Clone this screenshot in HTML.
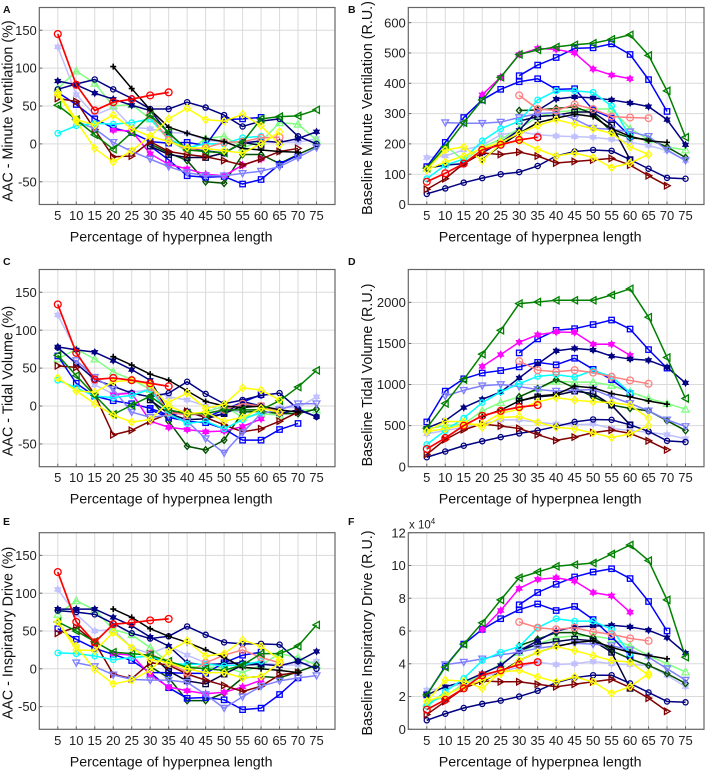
<!DOCTYPE html>
<html>
<head>
<meta charset="utf-8">
<title>Hyperpnea panels</title>
<style>
html,body{margin:0;padding:0;background:#fff;width:708px;height:772px;overflow:hidden}
svg{display:block;font-family:"Liberation Sans",sans-serif;filter:blur(.35px)}
</style>
</head>
<body>
<svg id="chart" xmlns="http://www.w3.org/2000/svg" width="708" height="772" viewBox="0 0 708 772"></svg>
<script>
const categories = [5,10,15,20,25,30,35,40,45,50,55,60,65,70,75];
const xTicks = [5,10,15,20,25,30,35,40,45,50,55,60,65,70,75];
const seriesNames = ['lavender-star','light-green-triangle','dark-green-diamond','blue-square-a','blue-square-b','magenta-star','dark-navy-square','navy-star','navy-circle','dark-red-triangle','lavender-down-triangle','cyan-hexagon','salmon-circle','black-plus','green-left-triangle','yellow-diamond-b','yellow-diamond-a','red-circle'];
const seriesFirstX = [5,5,30,5,30,20,30,5,5,5,10,5,30,20,5,5,5,5];

/* Panel A */
const aLavStar = [128,65,38,48,22,20,15,14,5,2,2,2,3,2,7];
const aLightGreen = [73,96,80,50,52,33,5,-10,7,10,-5,3,28,26,5];
const aDarkGreen = [0,-12,-22,-50,-52,-14,-14,-26,-14,-3];
const aBlue1 = [68,52,33,21,15,3,1,2,-2,32,33,35];
const aBlue2 = [-3,-21,-42,-44,-43,-53,-47,-27,-15];
const aMagenta = [18,17,-13,-27,-33,-40,-42,-28,-20];
const aNavySq = [-3,-14,-18,-18,-12,2,-2];
const aNavyStar = [83,78,67,59,51,44,14,-7,-9,-12,1,4,2,7,16];
const aNavyO = [72,79,85,72,60,46,46,55,48,38,23,30,33,10,0];
const aDarkRed = [60,56,19,-17,-16,3,-10,-14,-17,-22,-28,-20,-10,-6];
const aLavDown = [30,20,2,-10,-20,-30,-38,-42,-42,-39,-36,-30,-18,-5];
const aCyan = [14,24,27,26,28,33,7,-5,0,0,8,10];
const aSalmon = [38,5,-8,-5,2,3,8,9];
const aBlack = [102,73,45,22,14,7,3,-6,-8,-10,-11];
const aGreen = [51,32,12,-7,15,38,15,-8,-10,-12,2,33,36,37,45];
const aYellowB = [65,30,-6,-24,-9,10,3,-5,-6,-9,-12,0,16];
const aYellowA = [68,32,25,38,20,10,33,47,32,30,39,24,-1];
const aRed = [145,78,44,55,59,64,68];

/* Panel B */
const bLavStar = [155,160,180,195,230,240,230,226,224,222,215,205,195,178,145];
const bLightGreen = [120,195,145,190,215,250,290,305,310,315,315,250,215,190,180];
const bDarkGreen = [310,312,317,322,300,240,220,215,190,155];
const bBlue1 = [125,205,287,345,380,405,415,380,382,312,285,225];
const bBlue2 = [425,460,485,515,517,530,495,412,307];
const bMagenta = [362,420,495,515,512,500,447,427,415];
const bNavySq = [275,290,295,305,305,262,148];
const bNavyStar = [120,130,135,170,205,245,310,348,355,352,345,335,323,280,197];
const bNavyO = [35,53,72,87,100,107,127,160,175,180,177,148,118,88,85];
const bDarkRed = [50,85,135,170,165,173,160,137,142,147,152,130,95,62];
const bLavDown = [270,268,268,272,287,300,303,282,252,248,240,225,180,145];
const bCyan = [85,130,150,210,250,275,345,375,375,370,325,225];
const bSalmon = [360,315,310,330,315,290,287,285];
const bBlack = [148,195,235,270,285,298,290,250,225,210,205];
const bGreen = [120,190,270,345,420,495,510,520,527,532,545,560,492,375,222];
const bYellowB = [115,140,160,185,205,235,260,280,265,250,235,190,165];
const bYellowA = [115,180,190,145,200,210,182,160,170,155,122,137,165];
const bRed = [75,103,135,180,197,213,222];

/* Panel C */
const cLavStar = [120,73,28,16,18,22,12,8,0,-5,-8,-5,-2,-2,12];
const cLightGreen = [62,75,62,45,35,22,-5,-12,-8,0,-15,-10,-12,-5,-5];
const cDarkGreen = [10,-20,-53,-58,-45,-8,-7,-10,-10,-4];
const cBlue1 = [66,30,13,7,3,-3,-12,-8,-15,-5,5,15];
const cBlue2 = [-5,-15,-20,-22,-30,-45,-45,-31,-23];
const cMagenta = [15,17,-20,-28,-31,-34,-33,-27,-17];
const cNavySq = [8,-10,-18,-17,-10,0,0];
const cNavyStar = [78,74,71,60,48,34,-8,-7,-15,-10,6,0,-10,-5,-14];
const cNavyO = [77,56,35,26,17,12,17,32,16,3,8,14,17,-4,-14];
const cDarkRed = [53,51,15,-38,-32,-20,-10,-7,-15,-25,-34,-30,-20,-8];
const cLavDown = [60,38,22,-8,-15,-12,-20,-43,-62,-35,-10,-5,3,3];
const cCyan = [34,24,13,11,14,22,-10,-23,-20,-30,-18,-8];
const cSalmon = [25,-8,-12,-10,-5,3,0,-8];
const cBlack = [65,54,42,34,20,6,0,-2,0,-5,-8];
const cGreen = [67,40,14,-11,1,13,-5,-10,-10,-5,-5,-5,7,25,47];
const cYellowB = [37,20,18,32,34,28,0,-10,-8,-20,-15,-3,-8];
const cYellowA = [37,20,3,-12,-21,-18,5,17,-3,2,24,21,8];
const cRed = [134,70,35,37,34,30,26];

/* Panel D */
const dLavStar = [400,440,480,520,570,570,540,520,510,520,465,440,420,390,340];
const dLightGreen = [460,500,520,680,780,850,950,1040,1030,1030,990,910,830,770,700];
const dDarkGreen = [850,950,1060,960,850,750,710,680,560,440];
const dBlue1 = [545,920,1070,1140,1170,1215,1270,1240,1320,1185,1060,890];
const dBlue2 = [1385,1555,1660,1680,1730,1785,1675,1425,1200];
const dMagenta = [1220,1365,1515,1605,1640,1635,1490,1490,1355];
const dNavySq = [800,850,870,920,890,750,510];
const dNavyStar = [470,560,720,820,910,1080,1250,1410,1440,1420,1345,1310,1295,1210,1020];
const dNavyO = [115,185,255,310,360,405,440,490,545,575,570,510,430,315,300];
const dDarkRed = [150,330,450,520,495,465,390,320,360,415,445,405,315,205];
const dLavDown = [860,930,985,1000,975,940,920,930,940,850,770,680,570,490];
const dCyan = [270,440,590,780,910,1010,1100,1120,1090,1170,1100,900];
const dSalmon = [1285,1175,1155,1175,1145,1095,1050,1010];
const dBlack = [610,690,800,860,880,980,960,890,850,800,760];
const dGreen = [470,770,1060,1370,1660,1985,2005,2025,2025,2025,2090,2165,1820,1330,830];
const dYellowB = [430,460,510,520,650,700,790,840,810,790,780,750,590];
const dYellowA = [430,550,550,480,600,610,540,480,460,410,355,400,500];
const dRed = [215,350,500,620,680,725,750];

/* Panel E */
const eLavStar = [105,72,50,52,28,20,30,18,8,5,8,8,5,5,10];
const eLightGreen = [72,90,78,52,45,28,8,3,2,2,-5,5,20,15,5];
const eDarkGreen = [3,-12,-42,-42,-32,-12,-10,-12,-4,5];
const eBlue1 = [53,39,27,19,11,-5,-5,-6,-6,8,18,22];
const eBlue2 = [-5,-25,-39,-38,-41,-54,-52,-34,-12];
const eMagenta = [20,18,-8,-24,-29,-33,-31,-24,-15];
const eNavySq = [20,-3,-16,-20,-7,5,6];
const eNavyStar = [79,79,79,68,57,42,30,8,5,7,8,6,4,10,23];
const eNavyO = [77,75,72,60,47,40,43,56,45,35,33,33,32,10,0];
const eDarkRed = [47,55,35,-7,-13,8,5,-7,-15,-22,-30,-23,-8,-5];
const eLavDown = [8,3,-8,-14,-15,-15,-18,-34,-52,-37,-23,-16,-12,-9];
const eCyan = [21,20,17,12,15,17,7,6,6,4,5,10];
const eSalmon = [20,8,-5,8,18,25,15,8];
const eBlack = [79,68,53,43,35,25,15,2,0,-2,-5];
const eGreen = [62,50,36,22,20,18,10,2,0,-2,5,20,20,30,58];
const eYellowB = [62,25,24,48,28,12,8,0,-5,-5,-12,-10,8];
const eYellowA = [62,30,-1,-20,-15,-2,23,37,17,20,38,30,12];
const eRed = [128,62,35,59,61,64,66];

/* Panel F (x 10^4) */
const fLavStar = [2.4,2.5,2.8,3.2,3.5,3.8,4.1,3.95,4.0,4.15,4.0,3.95,3.9,3.3,2.6];
const fLightGreen = [1.6,2.0,2.8,3.3,4.0,4.7,5.2,5.6,5.7,5.7,5.5,5.1,4.5,4.0,3.5];
const fDarkGreen = [5.1,5.5,5.9,5.9,5.6,4.8,4.3,3.9,3.4,2.8];
const fBlue1 = [2.1,3.85,5.2,6.1,6.75,7.3,7.65,7.25,7.5,6.7,5.65,4.5];
const fBlue2 = [7.6,8.35,8.85,9.3,9.6,9.8,9.2,7.8,6.0];
const fMagenta = [6.1,7.25,8.6,9.15,9.25,9.05,8.35,8.15,7.15];
const fNavySq = [4.8,5.2,5.35,5.5,5.4,4.7,2.5];
const fNavyStar = [2.1,2.6,2.9,3.4,3.9,4.8,5.4,6.0,6.25,6.3,6.35,6.25,6.05,5.6,4.65];
const fNavyO = [0.55,0.95,1.3,1.55,1.75,2.0,2.35,2.85,3.15,3.3,3.3,2.8,2.25,1.7,1.65];
const fDarkRed = [0.9,1.7,2.5,2.95,2.9,2.9,2.75,2.6,2.75,2.9,3.05,2.55,1.9,1.1];
const fLavDown = [3.95,4.1,4.3,4.55,4.7,4.95,5.1,5.25,5.2,5.1,4.85,4.4,3.7,3.0];
const fCyan = [1.4,2.3,3.1,4.2,4.7,5.05,6.2,6.75,6.6,6.6,6.1,4.6];
const fSalmon = [6.55,6.2,6.1,6.2,5.95,5.8,5.55,5.4];
const fBlack = [2.9,3.5,4.2,4.7,5.05,5.3,5.4,5.0,4.7,4.5,4.3];
const fGreen = [2.1,3.8,5.2,6.5,7.9,9.25,9.6,9.95,10.05,10.15,10.7,11.25,10.3,7.9,4.4];
const fYellowB = [1.7,2.1,2.6,3.0,3.4,4.2,4.7,5.05,4.8,4.5,4.2,4.1,3.3];
const fYellowA = [1.7,3.0,2.95,2.5,3.5,3.6,3.2,2.9,3.2,2.9,2.2,2.6,3.4];
const fRed = [1.2,1.8,2.5,3.3,3.6,3.95,4.1];

const seriesA = [aLavStar,aLightGreen,aDarkGreen,aBlue1,aBlue2,aMagenta,aNavySq,aNavyStar,aNavyO,aDarkRed,aLavDown,aCyan,aSalmon,aBlack,aGreen,aYellowB,aYellowA,aRed];
const seriesB = [bLavStar,bLightGreen,bDarkGreen,bBlue1,bBlue2,bMagenta,bNavySq,bNavyStar,bNavyO,bDarkRed,bLavDown,bCyan,bSalmon,bBlack,bGreen,bYellowB,bYellowA,bRed];
const seriesC = [cLavStar,cLightGreen,cDarkGreen,cBlue1,cBlue2,cMagenta,cNavySq,cNavyStar,cNavyO,cDarkRed,cLavDown,cCyan,cSalmon,cBlack,cGreen,cYellowB,cYellowA,cRed];
const seriesD = [dLavStar,dLightGreen,dDarkGreen,dBlue1,dBlue2,dMagenta,dNavySq,dNavyStar,dNavyO,dDarkRed,dLavDown,dCyan,dSalmon,dBlack,dGreen,dYellowB,dYellowA,dRed];
const seriesE = [eLavStar,eLightGreen,eDarkGreen,eBlue1,eBlue2,eMagenta,eNavySq,eNavyStar,eNavyO,eDarkRed,eLavDown,eCyan,eSalmon,eBlack,eGreen,eYellowB,eYellowA,eRed];
const seriesF = [fLavStar,fLightGreen,fDarkGreen,fBlue1,fBlue2,fMagenta,fNavySq,fNavyStar,fNavyO,fDarkRed,fLavDown,fCyan,fSalmon,fBlack,fGreen,fYellowB,fYellowA,fRed];

const aacTicks = [-50,0,50,100,150];
const bTicks = [0,100,200,300,400,500,600];
const dTicks = [0,500,1000,1500,2000];
const fTicks = [0,2,4,6,8,10,12];

/* Style tables */
const seriesColors = ['#c0c0ff','#80ff80','#005000','#0000ff','#0000ff','#ff00ff','#000040','#000080','#000080','#800000','#8080ff','#00ffff','#ff8080','#000000','#008000','#ffff00','#ffff00','#ff0000'];
const seriesMarkers = ['star','up','diamond','square','square','star','square','star','circle','right','down','circle','circle','plus','left','diamond','diamond','circle'];
const seriesMarkerSizes = [2.8,3.6,3.2,3,3,2.8,3,2.6,2.6,3.2,3.4,2.8,3.4,3,3.6,3.6,3.6,3.4];

const panels = [
 {id:'a',letter:'A',lx:3,ly:13,left:39.3,right:335,top:7.5,bottom:204.5,min:-80,max:180,ticks:aacTicks,title:'AAC - Minute Ventilation (%)',tx:12.5,ty:111,data:seriesA},
 {id:'b',letter:'B',lx:348,ly:13,left:408.3,right:704,top:7.5,bottom:204.5,min:0,max:650,ticks:bTicks,title:'Baseline Minute Ventilation (R.U.)',tx:372,ty:108,data:seriesB},
 {id:'c',letter:'C',lx:3,ly:265,left:39.3,right:335,top:269.5,bottom:466.7,min:-80,max:180,ticks:aacTicks,title:'AAC - Tidal Volume (%)',tx:12.5,ty:381,data:seriesC},
 {id:'d',letter:'D',lx:348,ly:265,left:408.3,right:704,top:269.5,bottom:466.7,min:0,max:2400,ticks:dTicks,title:'Baseline Tidal Volume (R.U.)',tx:372,ty:375,data:seriesD},
 {id:'e',letter:'E',lx:3,ly:525,left:39.3,right:335,top:532.7,bottom:729.3,min:-80,max:180,ticks:aacTicks,title:'AAC - Inspiratory Drive (%)',tx:12.5,ty:633,data:seriesE},
 {id:'f',letter:'F',lx:348,ly:525,left:408.3,right:704,top:532.7,bottom:729.3,min:0,max:12,ticks:fTicks,title:'Baseline Inspiratory Drive (R.U.)',tx:372,ty:633,data:seriesF}
];

const NS = 'http://www.w3.org/2000/svg';
const root = document.getElementById('chart');

function mk(tag, attrs, parent) {
  const el = document.createElementNS(NS, tag);
  for (const k in attrs) el.setAttribute(k, attrs[k]);
  parent.appendChild(el);
  return el;
}

function polyPoints(pts) {
  return pts.map(p => p[0].toFixed(2) + ',' + p[1].toFixed(2)).join(' ');
}

function starPoints(cx, cy, r) {
  const pts = [];
  for (let i = 0; i < 12; i++) {
    const a = -Math.PI / 2 + i * Math.PI / 6;
    const rr = i % 2 ? r * 0.62 : r * 1.1;
    pts.push([cx + rr * Math.cos(a), cy + rr * Math.sin(a)]);
  }
  return polyPoints(pts);
}

function drawMarker(kind, x, y, r, color, parent) {
  const base = {fill: 'none', stroke: color, 'stroke-width': 1.3};
  if (kind === 'circle') return mk('circle', Object.assign({cx: x, cy: y, r: r}, base), parent);
  if (kind === 'square') return mk('rect', Object.assign({x: x - r * 0.9, y: y - r * 0.9, width: r * 1.8, height: r * 1.8}, base), parent);
  if (kind === 'diamond') return mk('polygon', Object.assign({points: polyPoints([[x, y - r], [x + r * 0.85, y], [x, y + r], [x - r * 0.85, y]])}, base), parent);
  if (kind === 'star') return mk('polygon', Object.assign({points: starPoints(x, y, r)}, base, {fill: color, 'fill-opacity': 0.85}), parent);
  if (kind === 'plus') return mk('path', Object.assign({d: 'M' + (x - r) + ' ' + y + 'H' + (x + r) + 'M' + x + ' ' + (y - r) + 'V' + (y + r)}, base, {'stroke-width': 1.6}), parent);
  const tri = {
    up: [[x, y - r], [x + r, y + r * 0.8], [x - r, y + r * 0.8]],
    down: [[x, y + r], [x + r, y - r * 0.8], [x - r, y - r * 0.8]],
    left: [[x - r, y], [x + r * 0.8, y - r], [x + r * 0.8, y + r]],
    right: [[x + r, y], [x - r * 0.8, y - r], [x - r * 0.8, y + r]]
  }[kind];
  return mk('polygon', Object.assign({points: polyPoints(tri)}, base), parent);
}

panels.forEach(function (p) {
  const xScale = v => p.left + (v / 80) * (p.right - p.left);
  const yScale = v => p.bottom - ((v - p.min) / (p.max - p.min)) * (p.bottom - p.top);

  const g = mk('g', {}, root);
  
  

  const letter = mk('text', {x: p.lx, y: p.ly, 'font-size': 10.5, 'font-weight': 'bold', fill: '#111'}, g);
  letter.textContent = p.letter;
  
  

  const bg = mk('rect', {x: p.left, y: p.top, width: p.right - p.left, height: p.bottom - p.top, fill: '#fff'}, g);
  
  

  /* vertical grid, ticks and labels */
  xTicks.forEach(function (t) {
    const x = xScale(t);
    const gl = mk('line', {x1: x, x2: x, y1: p.top, y2: p.bottom, stroke: '#dadada', 'stroke-width': 1}, g);
    
    
    const tk = mk('line', {x1: x, x2: x, y1: p.bottom, y2: p.bottom - 3, stroke: '#666', 'stroke-width': 1}, g);
    
    
    const lb = mk('text', {x: x, y: p.bottom + 15.5, 'text-anchor': 'middle', 'font-size': 13, fill: '#222'}, g);
    lb.textContent = t;
    
    
  });

  /* horizontal grid, ticks and labels */
  p.ticks.forEach(function (t) {
    const y = yScale(t);
    const gl = mk('line', {x1: p.left, x2: p.right, y1: y, y2: y, stroke: '#dadada', 'stroke-width': 1}, g);
    
    
    const tk = mk('line', {x1: p.left, x2: p.left + 3, y1: y, y2: y, stroke: '#666', 'stroke-width': 1}, g);
    
    
    const lb = mk('text', {x: p.left - 2.5, y: y + 4.6, 'text-anchor': 'end', 'font-size': 13, fill: '#222'}, g);
    lb.textContent = t;
    
    
  });

  const box = mk('rect', {x: p.left, y: p.top, width: p.right - p.left, height: p.bottom - p.top, fill: 'none', stroke: '#666', 'stroke-width': 1.2}, g);
  
  

  const xt = mk('text', {x: (p.left + p.right) / 2 - 16, y: p.bottom + 37, 'text-anchor': 'middle', 'font-size': 14.25, fill: '#111'}, g);
  xt.textContent = 'Percentage of hyperpnea length';
  
  

  const yt = mk('text', {x: 0, y: 0, transform: 'translate(' + p.tx + ',' + p.ty + ') rotate(-90)', 'text-anchor': 'middle', 'font-size': 14.3, fill: '#111'}, g);
  yt.textContent = p.title;
  
  

  /* series */
  p.data.forEach(function (values, i) {
    const sg = mk('g', {}, g);
    
    
    const startIndex = categories.indexOf(seriesFirstX[i]);
    const pts = values.map((v, j) => [xScale(categories[startIndex + j]), yScale(v)]);
    const line = mk('polyline', {points: polyPoints(pts), fill: 'none', stroke: seriesColors[i], 'stroke-width': i === 17 ? 1.7 : 1.5, 'stroke-linejoin': 'round'}, sg);
    
    
    pts.forEach(function (pt) {
      const m = drawMarker(seriesMarkers[i], pt[0], pt[1], seriesMarkerSizes[i], seriesColors[i], sg);
      
      
    });
  });
});

/* exponent note on panel F */
const expo = mk('text', {x: 409, y: 528.5, 'font-size': 11.5, fill: '#222'}, root);


expo.appendChild(document.createTextNode('x 10'));
const sup = mk('tspan', {dy: -4.5, 'font-size': 8}, expo);
sup.textContent = '4';
</script>
</body>
</html>
